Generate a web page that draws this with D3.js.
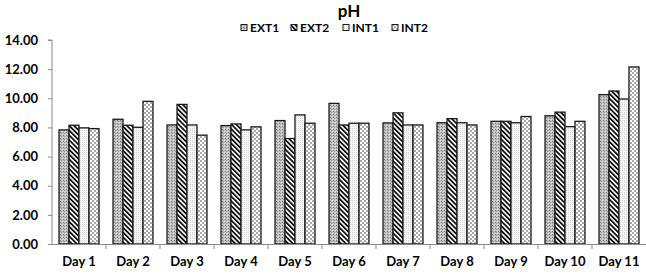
<!DOCTYPE html>
<html>
<head>
<meta charset="utf-8">
<script src="https://cdn.jsdelivr.net/npm/d3@7"></script>
<style>
  body { margin: 0; background: #fff; }
  svg text { font-family: Lato, "Open Sans", sans-serif; font-weight: bold; fill: #000; }
</style>
</head>
<body>
<script>
const days = ['Day 1', 'Day 2', 'Day 3', 'Day 4', 'Day 5', 'Day 6', 'Day 7', 'Day 8', 'Day 9', 'Day 10', 'Day 11']
const seriesNames = ['EXT1', 'EXT2', 'INT1', 'INT2']
const ext1 = [7.83, 8.56, 8.17, 8.13, 8.47, 9.65, 8.31, 8.32, 8.42, 8.80, 10.25]
const ext2 = [8.15, 8.15, 9.58, 8.24, 7.24, 8.17, 9.00, 8.60, 8.42, 9.05, 10.50]
const int1 = [7.97, 8.01, 8.17, 7.83, 8.86, 8.29, 8.17, 8.32, 8.32, 8.05, 9.95]
const int2 = [7.92, 9.79, 7.47, 8.04, 8.29, 8.29, 8.17, 8.17, 8.75, 8.42, 12.15]
const yTicks = [0, 2, 4, 6, 8, 10, 12, 14]

const series = [ext1, ext2, int1, int2]

const width = 646, height = 275
const margin = { top: 40, right: 0, bottom: 31, left: 52 }

const svg = d3.select('body').append('svg')
    .attr('width', width)
    .attr('height', height)

// patterns
const defs = svg.append('defs')

const p1 = defs.append('pattern').attr('id', 'pat0')
    .attr('patternUnits', 'userSpaceOnUse').attr('width', 3).attr('height', 3)
p1.append('rect').attr('width', 3).attr('height', 3).attr('fill', '#c2c2c2')
p1.append('rect').attr('x', 0).attr('y', 0).attr('width', 1).attr('height', 1).attr('fill', '#7a7a7a')
p1.append('rect').attr('x', 1).attr('y', 1).attr('width', 1).attr('height', 1).attr('fill', '#969696')
p1.append('rect').attr('x', 2).attr('y', 2).attr('width', 1).attr('height', 1).attr('fill', '#e2e2e2')

const p2 = defs.append('pattern').attr('id', 'pat1')
    .attr('patternUnits', 'userSpaceOnUse').attr('width', 3.4).attr('height', 10)
    .attr('patternTransform', 'rotate(-45)')
p2.append('rect').attr('width', 3.4).attr('height', 10).attr('fill', '#fff')
p2.append('rect').attr('width', 1.8).attr('height', 10).attr('fill', '#111')

const p3 = defs.append('pattern').attr('id', 'pat2')
    .attr('patternUnits', 'userSpaceOnUse').attr('width', 2).attr('height', 2)
p3.append('rect').attr('width', 2).attr('height', 2).attr('fill', '#f7f7f7')
p3.append('rect').attr('width', 1).attr('height', 1).attr('fill', '#d4d4d4')

const p4 = defs.append('pattern').attr('id', 'pat3')
    .attr('patternUnits', 'userSpaceOnUse').attr('width', 4).attr('height', 4)
p4.append('rect').attr('width', 4).attr('height', 4).attr('fill', '#fff')
p4.append('rect').attr('width', 2).attr('height', 2).attr('fill', '#a9a9a9')
p4.append('rect').attr('x', 2).attr('y', 2).attr('width', 2).attr('height', 2).attr('fill', '#a9a9a9')

// scales
const x = d3.scaleBand().domain(days)
    .range([margin.left, width - margin.right])
    .paddingInner(0.26).paddingOuter(0.13)
const xs = d3.scaleBand().domain(seriesNames).range([0, x.bandwidth()])
const y = d3.scaleLinear().domain([0, 14]).range([height - margin.bottom, margin.top])

// bars
series.forEach((vals, si) => {
    svg.append('g').selectAll('rect').data(vals).enter().append('rect')
        .attr('x', (d, i) => x(days[i]) + xs(seriesNames[si]))
        .attr('y', d => y(d))
        .attr('width', xs.bandwidth())
        .attr('height', d => y(0) - y(d))
        .attr('fill', `url(#pat${si})`)
        .attr('stroke', '#1a1a1a')
        .attr('stroke-width', 1.3)
})

// y axis
const yAxis = svg.append('g')
    .attr('transform', `translate(${margin.left},0)`)
    .call(d3.axisLeft(y).tickValues(yTicks).tickFormat(d3.format('.2f')).tickSize(4).tickPadding(10))
yAxis.selectAll('text').attr('font-size', 13)

// x axis
const xAxis = svg.append('g')
    .attr('transform', `translate(0,${y(0)})`)
    .call(d3.axisBottom(x).tickSize(0).tickPadding(13))
xAxis.selectAll('text').attr('font-size', 13)
xAxis.selectAll('.tick').filter((d, i) => i > 0).append('line')
    .attr('x1', -x.step() / 2).attr('x2', -x.step() / 2)
    .attr('y1', 0).attr('y2', 5)
xAxis.append('line')
    .attr('x1', x(days[days.length - 1]) + x.bandwidth() + x.step() * 0.13)
    .attr('x2', x(days[days.length - 1]) + x.bandwidth() + x.step() * 0.13)
    .attr('y1', 0).attr('y2', 5)

svg.selectAll('.domain, .tick line').attr('stroke', '#8a8a8a')
xAxis.select('.domain').attr('d', `M${margin.left},0.5H${width}`)
yAxis.select('.domain').attr('d', `M-4,${y(14)}H0V${y(0)}`)

// title
svg.append('text')
    .attr('x', 349).attr('y', 17)
    .attr('text-anchor', 'middle')
    .attr('font-size', 17)
    .text('pH')

// legend
const legendX = [241, 291, 343, 392]
const legend = svg.append('g')
seriesNames.forEach((name, i) => {
    legend.append('rect')
        .attr('x', legendX[i]).attr('y', 24.5)
        .attr('width', 6).attr('height', 6)
        .attr('fill', `url(#pat${i})`)
        .attr('stroke', '#1a1a1a').attr('stroke-width', 1)
    legend.append('text')
        .attr('x', legendX[i] + 9).attr('y', 32)
        .attr('font-size', 12)
        .text(name)
})
</script>
</body>
</html>
